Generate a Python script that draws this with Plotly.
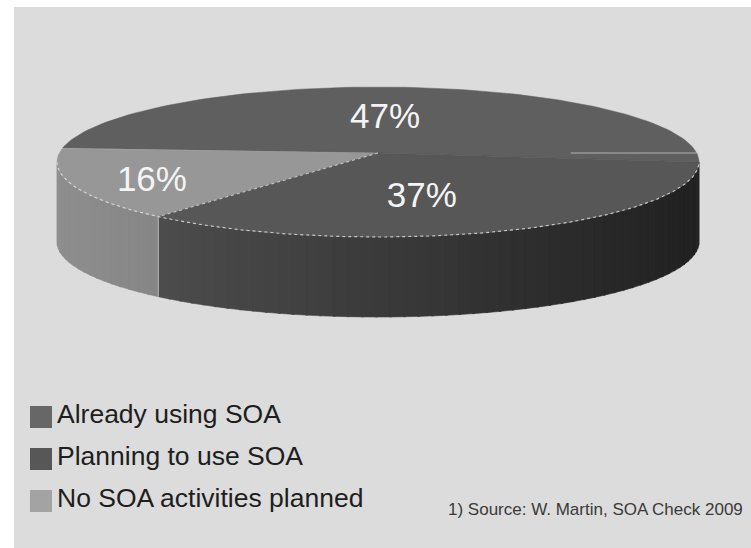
import numpy as np
import plotly.graph_objects as go

# ---- data ----
categories = ["Already using SOA", "Planning to use SOA", "No SOA activities planned"]
values = [47, 37, 16]
value_labels = ["47%", "37%", "16%"]
# counter-clockwise drawing order starting at 3 o'clock
slice_order = [0, 2, 1]
source_note = "1) Source: W. Martin, SOA Check 2009"

# ---- style ----
top_colors = ["#5f5f5f", "#575757", "#979797"]
legend_colors = ["#676767", "#575757", "#a3a3a3"]
label_radius = [0.60, 0.473, 0.744]
label_angle_shift = [3.3, -6.6, 0.8]
W, H = 751, 548
BG = "#dcdcdc"
cx, cy, rx, ry, depth = 378, 162, 321, 75, 80
apex = (378, 153)


def ell(a_deg, dy=0.0):
    a = np.radians(a_deg)
    return cx + rx * np.cos(a), cy - ry * np.sin(a) + dy


fig = go.Figure()

# slice angle ranges from data
total = float(sum(values))
ranges = {}
start = 0.0
for i in slice_order:
    span = 360.0 * values[i] / total
    ranges[i] = (start, start + span)
    start += span


def lerp_col(c0, c1, t):
    v = [int(round(a + (b - a) * t)) for a, b in zip(c0, c1)]
    return "rgb(%d,%d,%d)" % tuple(v)


# ---- side walls (front half only: 180..360 deg) ----
side_grad = {0: ((90, 90, 90), (60, 60, 60)),
             1: ((76, 76, 76), (33, 33, 33)),
             2: ((142, 142, 142), (134, 134, 134))}
for i in slice_order:
    a0, a1 = ranges[i]
    s0, s1 = max(a0, 180.0), min(a1, 360.0)
    if s1 <= s0:
        continue
    n = max(4, int((s1 - s0) / 2.5))
    edges = np.linspace(s0, s1, n + 1)
    x_left, _ = ell(s0)
    x_right, _ = ell(s1)
    for k in range(n):
        e0, e1 = edges[k], min(edges[k + 1] + 0.4, s1)
        aa = np.linspace(e0, e1, 6)
        xs_top, ys_top = ell(aa)
        xs_bot, ys_bot = ell(aa[::-1], depth)
        xm, _ = ell((e0 + e1) / 2)
        t = (xm - x_left) / max(x_right - x_left, 1)
        col = lerp_col(side_grad[i][0], side_grad[i][1], t)
        fig.add_trace(go.Scatter(
            x=np.concatenate([xs_top, xs_bot, xs_top[:1]]),
            y=np.concatenate([ys_top, ys_bot, ys_top[:1]]),
            mode="lines", fill="toself", fillcolor=col,
            line=dict(color=col, width=0.6), hoverinfo="skip"))

# vertical edge between side walls
for i in slice_order:
    a0, a1 = ranges[i]
    if 180 < a1 < 360:
        x0, y0 = ell(a1)
        fig.add_trace(go.Scatter(x=[x0, x0], y=[y0, y0 + depth], mode="lines",
                                 line=dict(color="rgba(235,235,235,0.7)", width=1),
                                 hoverinfo="skip"))

# ---- top face wedges ----
for i in slice_order:
    a0, a1 = ranges[i]
    aa = np.linspace(a0, a1, 120)
    xs, ys = ell(aa)
    fig.add_trace(go.Scatter(
        x=np.concatenate([[apex[0]], xs, [apex[0]]]),
        y=np.concatenate([[apex[1]], ys, [apex[1]]]),
        mode="lines", fill="toself", fillcolor=top_colors[i],
        line=dict(color=top_colors[i], width=0.5), hoverinfo="skip"))

# highlight along the front rim
aa = np.linspace(180, 360, 200)
xs, ys = ell(aa)
fig.add_trace(go.Scatter(x=xs, y=ys, mode="lines",
                         line=dict(color="rgba(235,235,235,0.75)", width=1.2, dash="dot"),
                         hoverinfo="skip"))

# wedge boundaries on the top face
b_16_37 = ranges[2][1]
bx, by = ell(b_16_37)
fig.add_trace(go.Scatter(x=[apex[0], bx], y=[apex[1], by], mode="lines",
                         line=dict(color="rgba(225,225,225,0.7)", width=1.2, dash="dot"),
                         hoverinfo="skip"))
rx0, ry0 = ell(0)
fig.add_trace(go.Scatter(x=[apex[0] + 0.6 * (rx0 - apex[0]), rx0], y=[apex[1], apex[1]],
                         mode="lines", line=dict(color="rgba(200,200,200,0.8)", width=1),
                         hoverinfo="skip"))

# ---- percentage labels ----
lx, ly = [], []
for i in range(len(values)):
    a0, a1 = ranges[i]
    m = np.radians((a0 + a1) / 2 + label_angle_shift[i])
    lx.append(cx + label_radius[i] * rx * np.cos(m))
    ly.append(cy - label_radius[i] * ry * np.sin(m) + 2)
fig.add_trace(go.Scatter(x=lx, y=ly, mode="text", text=value_labels,
                         textfont=dict(family="Liberation Sans, Arial, sans-serif",
                                       size=35, color="#f4f4f4"),
                         hoverinfo="skip"))

# ---- legend ----
leg_y = [417 + 42 * k for k in range(len(categories))]
fig.add_trace(go.Scatter(x=[41] * len(categories), y=leg_y, mode="markers",
                         marker=dict(symbol="square", size=22, color=legend_colors,
                                     line=dict(width=0)),
                         hoverinfo="skip"))
fig.add_trace(go.Scatter(x=[57] * len(categories), y=[v - 1 for v in leg_y], mode="text",
                         text=categories, textposition="middle right",
                         textfont=dict(family="Liberation Sans, Arial, sans-serif",
                                       size=26.5, color="#1e1e1e"),
                         hoverinfo="skip"))

fig.add_annotation(x=446, y=509, xref="x", yref="y", text=source_note,
                   showarrow=False, xanchor="left", yanchor="middle",
                   font=dict(family="Liberation Sans, Arial, sans-serif", size=17,
                             color="#3a3a3a"))

fig.update_layout(
    width=W, height=H,
    margin=dict(l=0, r=0, t=0, b=0),
    paper_bgcolor=BG, plot_bgcolor=BG,
    showlegend=False,
    xaxis=dict(range=[0, W], visible=False, fixedrange=True),
    yaxis=dict(range=[H, 0], visible=False, fixedrange=True),
    shapes=[
        dict(type="rect", xref="paper", yref="paper", x0=0, x1=1, y0=1 - 7 / H, y1=1,
             fillcolor="white", line=dict(width=0), layer="below"),
        dict(type="rect", xref="paper", yref="paper", x0=0, x1=14 / W, y0=0, y1=1,
             fillcolor="white", line=dict(width=0), layer="below"),
    ],
)

fig.write_html("out.html", config={"displayModeBar": False},
               post_script="document.body.style.margin='0';document.body.style.overflow='hidden';document.body.style.background='#dcdcdc';")
